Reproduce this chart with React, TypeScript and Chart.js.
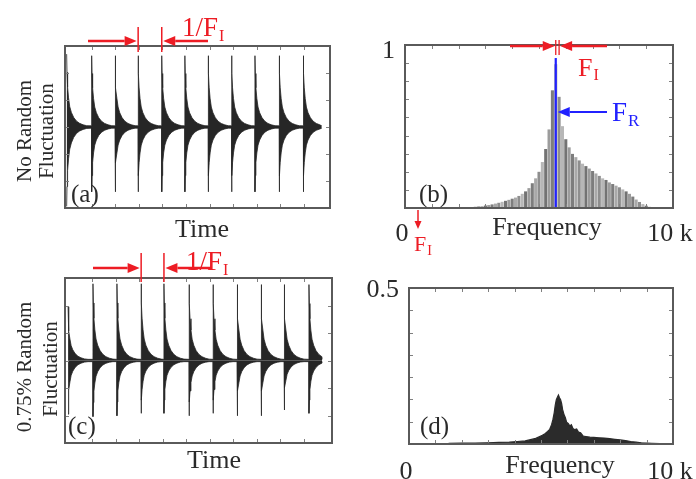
import React, { useEffect, useRef } from "react";
import { Chart, registerables } from "chart.js";

Chart.register(...registerables);

const W = 696;
const H = 479;
const SERIF = '"Liberation Serif", "Times New Roman", Times, serif';
const INK = "#2a2a2a";
const RED = "#ed1c24";
const BLUE = "#2121ff";
const FRAME = "#5a5a5a";
const TICK = "#808080";
const SIGNAL = "#262626";

// ---------------- data ----------------
// (a) no random fluctuation: burst onsets (time units), peak amplitudes (up / down)
const burstTimesA = [-0.06, 1.0, 1.99, 2.97, 3.97, 4.95, 5.94, 6.93, 7.92, 8.95, 9.97];
const burstUpA = [0.9, 0.88, 0.88, 0.88, 0.88, 0.88, 0.88, 0.88, 0.88, 0.88, 0.88];
const burstDownA = [0.98, 0.8, 0.8, 0.8, 0.8, 0.8, 0.8, 0.8, 0.8, 0.8, 0.8];
const timeMinA = -0.13;
const timeMaxA = 11.1;
const signalEndA = 10.75;

// (c) 0.75% random fluctuation
const burstTimesC = [-0.02, 1.04, 2.06, 3.09, 4.06, 5.13, 6.15, 7.17, 8.19, 9.17, 10.23];
const burstUpC = [0.65, 0.93, 0.93, 0.93, 0.93, 0.92, 0.92, 0.92, 0.92, 0.92, 0.92];
const burstDownC = [0.65, 0.68, 0.67, 0.64, 0.64, 0.67, 0.64, 0.67, 0.67, 0.6, 0.64];
const timeMinC = -0.15;
const timeMaxC = 11.21;
const signalEndC = 10.79;

// decay envelope of one burst (offset in time units, relative level)
const decayOffsets = [0, 0.015, 0.04, 0.08, 0.13, 0.2, 0.3, 0.42, 0.55, 0.7, 0.85];
const decayLevels = [1, 0.75, 0.55, 0.4, 0.28, 0.2, 0.13, 0.08, 0.05, 0.03, 0.018];
const baselineLevel = 0.014;

// (b) spectrum, harmonics of F_I
const FI_HZ = 125;
const harmonicsB = [
  20, 21, 22, 23, 24, 25, 26, 27, 28, 29, 30, 31, 32, 33, 34, 35, 36, 37, 38, 39,
  40, 41, 42, 43, 44, 45, 46, 47, 48, 49, 50, 51, 52, 53, 54, 55, 56, 57, 58, 59,
  60, 61, 62, 63, 64, 65, 66, 67, 68, 69, 70, 71, 72, 73,
];
const levelsB = [
  0.004, 0.006, 0.008, 0.01, 0.013, 0.016, 0.02, 0.025, 0.03, 0.036, 0.042, 0.048, 0.055, 0.062, 0.072, 0.085, 0.1, 0.12, 0.15, 0.18,
  0.22, 0.28, 0.36, 0.48, 0.72, 0.88, 0.68, 0.5, 0.42, 0.37, 0.33, 0.31, 0.29, 0.27, 0.255, 0.24, 0.225, 0.21, 0.195, 0.18,
  0.17, 0.155, 0.145, 0.135, 0.125, 0.112, 0.1, 0.085, 0.068, 0.05, 0.035, 0.022, 0.012, 0.005,
];
const markedHarmonic = 45;
const resonanceHz = 5625;
const resonanceLevel = 0.92;

// (d) spectrum with random fluctuation
const freqD = [
  1500, 2000, 2500, 3000, 3400, 3800, 4100, 4400, 4600, 4800, 4950, 5050, 5150, 5250, 5330, 5400, 5450, 5500,
  5540, 5580, 5620, 5660, 5700, 5740, 5780, 5820, 5870, 5920, 5970, 6030, 6090, 6150, 6210, 6280, 6350, 6420,
  6500, 6600, 6700, 6850, 7000, 7200, 7400, 7600, 7800, 8000, 8200, 8400, 8600, 8800, 9000, 9200, 9500,
];
const levelsD = [
  0.002, 0.003, 0.003, 0.004, 0.005, 0.006, 0.008, 0.01, 0.014, 0.018, 0.024, 0.028, 0.033, 0.04, 0.047, 0.062, 0.078, 0.1,
  0.125, 0.142, 0.15, 0.157, 0.148, 0.143, 0.13, 0.11, 0.095, 0.085, 0.07, 0.066, 0.058, 0.062, 0.05, 0.046, 0.048, 0.038,
  0.036, 0.025, 0.024, 0.022, 0.021, 0.02, 0.019, 0.017, 0.015, 0.013, 0.011, 0.008, 0.006, 0.004, 0.003, 0.002, 0.001,
];

const freqTickLabels: Record<number, string> = { 0: "0", 10000: "10 k" };

// ---------------- helpers ----------------
type Pt = { x: number; y: number };

function envelope(times: number[], peaks: number[], sign: number, end: number): Pt[] {
  const pts: Pt[] = [];
  times.forEach((t0, k) => {
    const next = k + 1 < times.length ? times[k + 1] : end;
    decayOffsets.forEach((off, i) => {
      const x = t0 + off;
      if (x < next) pts.push({ x, y: sign * Math.max(baselineLevel, peaks[k] * decayLevels[i]) });
    });
    pts.push({ x: next, y: sign * baselineLevel });
  });
  return pts;
}

const fitTo = (size: number) => (s: any) => {
  if (s.isHorizontal()) s.height = size;
  else s.width = size;
  s.paddingLeft = 0;
  s.paddingRight = 0;
  s.paddingTop = 0;
  s.paddingBottom = 0;
};

function txt(
  ctx: CanvasRenderingContext2D,
  s: string,
  x: number,
  y: number,
  size: number,
  color = INK,
  align: CanvasTextAlign = "left",
  rot = 0,
  baseline: CanvasTextBaseline = "alphabetic"
) {
  ctx.save();
  ctx.font = `${size}px ${SERIF}`;
  ctx.fillStyle = color;
  ctx.textAlign = align;
  ctx.textBaseline = baseline;
  ctx.translate(x, y);
  if (rot) ctx.rotate(rot);
  ctx.fillText(s, 0, 0);
  ctx.restore();
}

function subTxt(ctx: CanvasRenderingContext2D, main: string, sub: string, x: number, y: number, size: number, subSize: number, color: string) {
  ctx.save();
  ctx.font = `${size}px ${SERIF}`;
  const w = ctx.measureText(main).width;
  ctx.restore();
  txt(ctx, main, x, y, size, color);
  txt(ctx, sub, x + w + 1, y + size * 0.17, subSize, color);
}

function arrow(ctx: CanvasRenderingContext2D, x1: number, y1: number, x2: number, y2: number, color: string, lw = 2.5, head = 12, half = 5) {
  const ang = Math.atan2(y2 - y1, x2 - x1);
  const bx = x2 - head * Math.cos(ang);
  const by = y2 - head * Math.sin(ang);
  ctx.save();
  ctx.strokeStyle = color;
  ctx.fillStyle = color;
  ctx.lineWidth = lw;
  ctx.beginPath();
  ctx.moveTo(x1, y1);
  ctx.lineTo(bx, by);
  ctx.stroke();
  ctx.beginPath();
  ctx.moveTo(x2, y2);
  ctx.lineTo(bx + half * Math.sin(ang), by - half * Math.cos(ang));
  ctx.lineTo(bx - half * Math.sin(ang), by + half * Math.cos(ang));
  ctx.closePath();
  ctx.fill();
  ctx.restore();
}

function vline(ctx: CanvasRenderingContext2D, x: number, y1: number, y2: number, color: string, lw = 1.5) {
  ctx.save();
  ctx.strokeStyle = color;
  ctx.lineWidth = lw;
  ctx.beginPath();
  ctx.moveTo(x, y1);
  ctx.lineTo(x, y2);
  ctx.stroke();
  ctx.restore();
}

function drawFrame(chart: any, ctx: CanvasRenderingContext2D) {
  const a = chart.chartArea;
  const xs = chart.scales.x;
  const ys = chart.scales.y;
  ctx.save();
  ctx.strokeStyle = TICK;
  ctx.lineWidth = 1;
  ctx.beginPath();
  for (const t of xs.ticks) {
    const p = Math.round(xs.getPixelForValue(t.value)) + 0.5;
    if (p < a.left + 3 || p > a.right - 3) continue;
    ctx.moveTo(p, a.top);
    ctx.lineTo(p, a.top + 4);
    ctx.moveTo(p, a.bottom);
    ctx.lineTo(p, a.bottom - 4);
  }
  for (const t of ys.ticks) {
    const p = Math.round(ys.getPixelForValue(t.value)) + 0.5;
    if (p < a.top + 3 || p > a.bottom - 3) continue;
    ctx.moveTo(a.left, p);
    ctx.lineTo(a.left + 4, p);
    ctx.moveTo(a.right, p);
    ctx.lineTo(a.right - 4, p);
  }
  ctx.stroke();
  ctx.strokeStyle = FRAME;
  ctx.lineWidth = 2;
  ctx.strokeRect(a.left, a.top, a.right - a.left, a.bottom - a.top);
  ctx.restore();
}

const plainAxis = (size: number, extra: any) => ({
  grid: { display: false },
  border: { display: false },
  afterFit: fitTo(size),
  ...extra,
});

const baseOptions = (padding: any, scales: any) => ({
  animation: false,
  responsive: false,
  maintainAspectRatio: false,
  devicePixelRatio: 1,
  events: [],
  layout: { padding },
  plugins: { legend: { display: false }, tooltip: { enabled: false } },
  scales,
});

// ---------------- chart configs ----------------
// area = [left, top, right, bottom] of the plot box on the page
function timePanel(
  id: string,
  times: number[],
  up: number[],
  down: number[],
  tMin: number,
  tMax: number,
  end: number,
  area: number[],
  annotate: (chart: any, ctx: CanvasRenderingContext2D) => void
) {
  const [l, t, r, b] = area;
  return {
    type: "line",
    data: {
      datasets: [
        { data: envelope(times, up, 1, end), fill: "origin", backgroundColor: SIGNAL, borderColor: SIGNAL, borderWidth: 0.8, pointRadius: 0, tension: 0 },
        { data: envelope(times, down, -1, end), fill: "origin", backgroundColor: SIGNAL, borderColor: SIGNAL, borderWidth: 0.8, pointRadius: 0, tension: 0 },
      ],
    },
    options: baseOptions({ left: 0, top: t, right: W - r, bottom: 0 }, {
      x: plainAxis(H - b, { type: "linear", min: tMin, max: tMax, ticks: { display: false, stepSize: 1 } }),
      y: plainAxis(l, { type: "linear", min: -1, max: 1, ticks: { display: false, count: 7 } }),
    }),
    plugins: [
      {
        id,
        afterDraw(chart: any) {
          const ctx = chart.ctx;
          drawFrame(chart, ctx);
          annotate(chart, ctx);
        },
      },
    ],
  };
}

const freqAxis = (size: number, padding: number) =>
  plainAxis(size, {
    type: "linear",
    min: 0,
    max: 10000,
    offset: false,
    ticks: {
      stepSize: 1000,
      autoSkip: false,
      maxRotation: 0,
      padding,
      labelOffset: -3,
      font: { family: SERIF, size: 26 },
      color: INK,
      callback: (v: number) => freqTickLabels[v] ?? "",
    },
  });

function makeA() {
  return timePanel("decorA", burstTimesA, burstUpA, burstDownA, timeMinA, timeMaxA, signalEndA, [65, 46, 330, 208], (chart, ctx) => {
    const xs = chart.scales.x;
    const l1 = xs.getPixelForValue(burstTimesA[3]);
    const l2 = xs.getPixelForValue(burstTimesA[4]);
    vline(ctx, l1, 27, 52, RED);
    vline(ctx, l2, 27, 52, RED);
    arrow(ctx, 88, 41, l1 - 1.5, 41, RED);
    arrow(ctx, 208, 41, l2 + 1.5, 41, RED);
    subTxt(ctx, "1/F", "I", 182, 36, 27, 16, RED);
    txt(ctx, "No Random", 25, 131, 21, INK, "center", -Math.PI / 2, "middle");
    txt(ctx, "Fluctuation", 47, 131, 21, INK, "center", -Math.PI / 2, "middle");
    txt(ctx, "(a)", 71, 202, 25);
    txt(ctx, "Time", 202, 237, 26, INK, "center");
  });
}

function makeC() {
  return timePanel("decorC", burstTimesC, burstUpC, burstDownC, timeMinC, timeMaxC, signalEndC, [65, 278, 332, 443], (chart, ctx) => {
    const xs = chart.scales.x;
    const l1 = xs.getPixelForValue(burstTimesC[3]);
    const l2 = xs.getPixelForValue(burstTimesC[4]);
    vline(ctx, l1, 253, 282, RED);
    vline(ctx, l2, 253, 282, RED);
    arrow(ctx, 93, 268, l1 - 1.5, 268, RED);
    arrow(ctx, 212, 268, l2 + 1.5, 268, RED);
    subTxt(ctx, "1/F", "I", 186, 270, 27, 16, RED);
    txt(ctx, "0.75% Random", 25, 367, 21, INK, "center", -Math.PI / 2, "middle");
    txt(ctx, "Fluctuation", 51, 369, 21, INK, "center", -Math.PI / 2, "middle");
    txt(ctx, "(c)", 68, 434, 25);
    txt(ctx, "Time", 214, 468, 26, INK, "center");
  });
}

const barGreys = ["#7d7d7d", "#a9a9a9", "#8e8e8e", "#b7b7b7", "#737373", "#9c9c9c"];

function makeB() {
  return {
    type: "bar",
    data: {
      datasets: [
        {
          data: harmonicsB.map((n, i) => ({ x: n * FI_HZ, y: levelsB[i] })),
          backgroundColor: harmonicsB.map((_, i) => barGreys[i % barGreys.length]),
          barThickness: 2.4,
          grouped: false,
        },
      ],
    },
    options: baseOptions({ left: 0, top: 45, right: W - 673, bottom: 0 }, {
      x: freqAxis(H - 208, 3),
      y: plainAxis(405, {
        type: "linear",
        min: 0,
        max: 1,
        ticks: {
          count: 10,
          autoSkip: false,
          padding: 2,
          labelOffset: 6,
          font: { family: SERIF, size: 26 },
          color: INK,
          callback: (v: number) => (v > 0.999 ? "1" : ""),
        },
      }),
    }),
    plugins: [
      {
        id: "decorB",
        afterDraw(chart: any) {
          const ctx = chart.ctx;
          const xs = chart.scales.x;
          const ys = chart.scales.y;
          const fr = xs.getPixelForValue(resonanceHz);
          vline(ctx, fr, ys.getPixelForValue(resonanceLevel), ys.getPixelForValue(0), BLUE, 2.2);
          drawFrame(chart, ctx);
          const h1 = xs.getPixelForValue(markedHarmonic * FI_HZ);
          const h2 = xs.getPixelForValue((markedHarmonic + 1) * FI_HZ);
          vline(ctx, h1, 40, 55, RED, 1.3);
          vline(ctx, h2, 40, 55, RED, 1.3);
          arrow(ctx, 510, 46, h1 - 1, 46, RED);
          arrow(ctx, 607, 46, h2 + 1, 46, RED);
          subTxt(ctx, "F", "I", 578, 76, 26, 16, RED);
          arrow(ctx, 607, 112, fr + 2, 112, BLUE, 2.2);
          subTxt(ctx, "F", "R", 612, 121, 27, 17, BLUE);
          arrow(ctx, 418, 210, 418, 229, RED, 1.5, 8, 3.5);
          subTxt(ctx, "F", "I", 414, 251, 22, 14, RED);
          txt(ctx, "(b)", 419, 202, 25);
          txt(ctx, "Frequency", 547, 235, 26, INK, "center");
        },
      },
    ],
  };
}

function makeD() {
  return {
    type: "line",
    data: {
      datasets: [
        {
          data: freqD.map((f, i) => ({ x: f, y: levelsD[i] })),
          fill: "origin",
          backgroundColor: "#2b2b2b",
          borderColor: "#2b2b2b",
          borderWidth: 1.2,
          pointRadius: 0,
          tension: 0,
        },
      ],
    },
    options: baseOptions({ left: 0, top: 288, right: W - 673, bottom: 0 }, {
      x: freqAxis(H - 444, 5),
      y: plainAxis(409, {
        type: "linear",
        min: 0,
        max: 0.5,
        ticks: {
          count: 8,
          autoSkip: false,
          padding: 2,
          labelOffset: 2,
          font: { family: SERIF, size: 26 },
          color: INK,
          callback: (v: number) => (v > 0.499 ? "0.5" : ""),
        },
      }),
    }),
    plugins: [
      {
        id: "decorD",
        afterDraw(chart: any) {
          const ctx = chart.ctx;
          drawFrame(chart, ctx);
          txt(ctx, "(d)", 420, 434, 25);
          txt(ctx, "Frequency", 560, 473, 26, INK, "center");
        },
      },
    ],
  };
}

function Panel({ make }: { make: () => any }) {
  const ref = useRef<HTMLCanvasElement>(null);
  useEffect(() => {
    const chart = new Chart(ref.current as HTMLCanvasElement, make());
    return () => chart.destroy();
  }, [make]);
  return (
    <canvas
      ref={ref}
      width={W}
      height={H}
      style={{ position: "absolute", left: 0, top: 0, width: W, height: H }}
    />
  );
}

export default function App() {
  return (
    <div style={{ position: "fixed", left: 0, top: 0, width: W, height: H, background: "#fff", overflow: "hidden" }}>
      <Panel make={makeA} />
      <Panel make={makeB} />
      <Panel make={makeC} />
      <Panel make={makeD} />
    </div>
  );
}
